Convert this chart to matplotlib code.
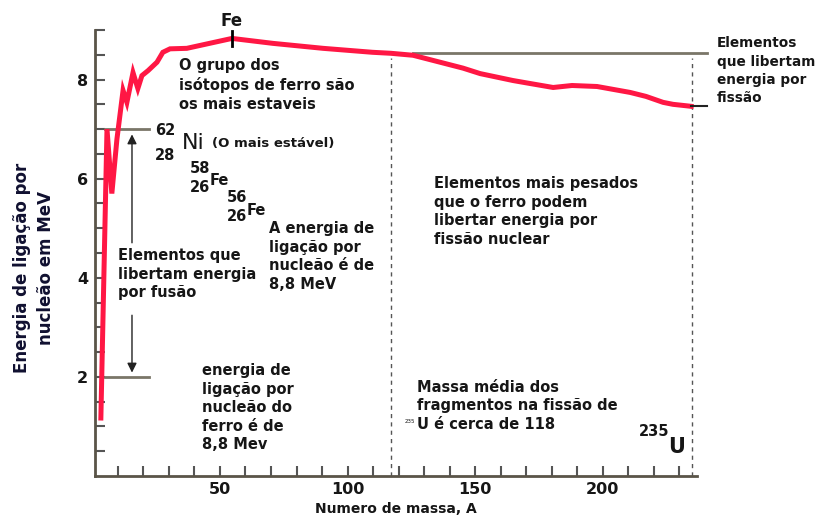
import matplotlib.pyplot as plt

# curve (mass number A, binding energy per nucleon in MeV)
mass = [3.3, 5.7, 7.6, 9.6, 12, 13.5, 15.9, 17.8, 19.4, 21.8, 25.3, 27.6, 30.4, 37,
        54.7, 70.8, 90.4, 109.8, 117, 125.7, 145.3, 152, 164.9, 171.6, 180.6, 188,
        197.8, 210.8, 217, 223.7, 227.6, 234.7]
energy = [1.17, 7.0, 5.7, 6.8, 7.78, 7.54, 8.14, 7.82, 8.08, 8.18, 8.35, 8.55, 8.62, 8.63,
          8.83, 8.73, 8.63, 8.55, 8.53, 8.49, 8.23, 8.12, 7.98, 7.92, 7.84, 7.88,
          7.86, 7.74, 7.66, 7.54, 7.5, 7.46]

fe_peak = 54.7
fusion_levels = [7.0, 2.0]
fission_level = 8.53
fission_end = 7.46
split_mass = [117, 235]

xticks = [50, 100, 150, 200]
yticks = [2, 4, 6, 8]

txt = '#161616'

fig = plt.figure(figsize=(8.2, 5.17), dpi=100)
ax = fig.add_axes([95 / 820, 1 - 476 / 517, 602 / 820, 446 / 517])

ax.plot(mass, energy, color='#ff1744', lw=3.6, solid_joinstyle='miter', zorder=3)

# grey reference lines for fusion
for e in fusion_levels:
    ax.plot([5, 22], [e, e], color='#7a7668', lw=2, zorder=2)
ax.annotate('', xy=(15.5, 6.95), xytext=(15.5, 4.65),
            arrowprops=dict(arrowstyle='-|>', color='#222', lw=1, mutation_scale=14))
ax.annotate('', xy=(15.5, 2.03), xytext=(15.5, 3.3),
            arrowprops=dict(arrowstyle='-|>', color='#222', lw=1, mutation_scale=14))

# fission reference lines
ax.plot([125.6, 241], [fission_level, fission_level], color='#7a7668', lw=2, zorder=2, clip_on=False)
ax.plot([234.7, 241], [fission_end, fission_end], color='#222', lw=1.5, zorder=4, clip_on=False)
for m in split_mass:
    ax.plot([m, m], [0, 8.44], color='#555', lw=1, ls=(0, (3, 3)), zorder=1)

# Fe peak tick
ax.plot([fe_peak, fe_peak], [8.68, 8.97], color='black', lw=2, zorder=5)
ax.text(fe_peak, 9.19, 'Fe', ha='center', va='center', fontsize=12, fontweight='bold',
        color=txt, clip_on=False)

ax.set_xlim(1, 237)
ax.set_ylim(0, 9)
ax.set_xticks(xticks)
ax.set_xticks(range(10, 240, 10), minor=True)
ax.set_yticks(yticks)
ax.set_yticks([i * 0.5 for i in range(1, 19)], minor=True)
ax.tick_params(which='both', direction='in', length=7, width=1.5, color='#555')
ax.tick_params(axis='y', pad=5, labelsize=11.5)
ax.tick_params(axis='x', pad=4, labelsize=11.5)
for lab in ax.get_xticklabels() + ax.get_yticklabels():
    lab.set_fontweight('bold')
    lab.set_color(txt)
for s in ['top', 'right']:
    ax.spines[s].set_visible(False)
for s in ['left', 'bottom']:
    ax.spines[s].set_color('#5a5448')
    ax.spines[s].set_linewidth(2)

ax.set_xlabel('Numero de massa, A', fontsize=10, fontweight='bold', color=txt, labelpad=4)
fig.text(34 / 820, 1 - 268 / 517, 'Energia de ligação por\nnucleão em MeV', rotation=90,
         ha='center', va='center', fontsize=12, fontweight='bold', color='#101030',
         multialignment='center', linespacing=1.45)

kw = dict(fontsize=10.5, fontweight='bold', color=txt, va='top', ha='left', linespacing=1.3)
ax.text(33.9, 8.43, 'O grupo dos\nisótopos de ferro são\nos mais estaveis', **kw)
ax.text(69.2, 5.14, 'A energia de\nligação por\nnucleão é de\n8,8 MeV', **kw)
ax.text(10.0, 4.60, 'Elementos que\nlibertam energia\npor fusão', **kw)
ax.text(42.9, 2.28, 'energia de\nligação por\nnucleão do\nferro é de\n8,8 Mev', **kw)
ax.text(133.9, 6.05, 'Elementos mais pesados\nque o ferro podem\nlibertar energia por\nfissão nuclear', **kw)
ax.text(127.3, 1.94, 'Massa média dos\nfragmentos na fissão de\nU é cerca de 118', **kw)
ax.text(244.9, 8.87, 'Elementos\nque libertam\nenergia por\nfissão', clip_on=False,
        fontsize=9.8, fontweight='bold', color=txt, va='top', ha='left', linespacing=1.38)

# isotope labels
iso = dict(fontsize=10.5, fontweight='bold', color=txt, va='center', ha='center')
ax.text(28.4, 6.98, '62', **iso)
ax.text(28.4, 6.47, '28', **iso)
ax.text(35.1, 6.71, 'Ni', fontsize=16, color=txt, va='center', ha='left')
ax.text(46.9, 6.71, '(O mais estável)', fontsize=9.5, fontweight='bold', color=txt,
        va='center', ha='left')
ax.text(42.2, 6.21, '58', **iso)
ax.text(42.2, 5.83, '26', **iso)
ax.text(46.1, 5.97, 'Fe', fontsize=10.5, fontweight='bold', color=txt, va='center', ha='left')
ax.text(56.7, 5.63, '56', **iso)
ax.text(56.7, 5.24, '26', **iso)
ax.text(60.6, 5.36, 'Fe', fontsize=10.5, fontweight='bold', color=txt, va='center', ha='left')
ax.text(124.5, 1.09, '235', fontsize=4, color=txt, va='center', ha='center')
ax.text(220.2, 0.89, '235', fontsize=10.5, fontweight='bold', color=txt, va='center', ha='center')
ax.text(225.7, 0.58, 'U', fontsize=15, fontweight='bold', color=txt, va='center', ha='left')

fig.savefig('out.png', dpi=100)
